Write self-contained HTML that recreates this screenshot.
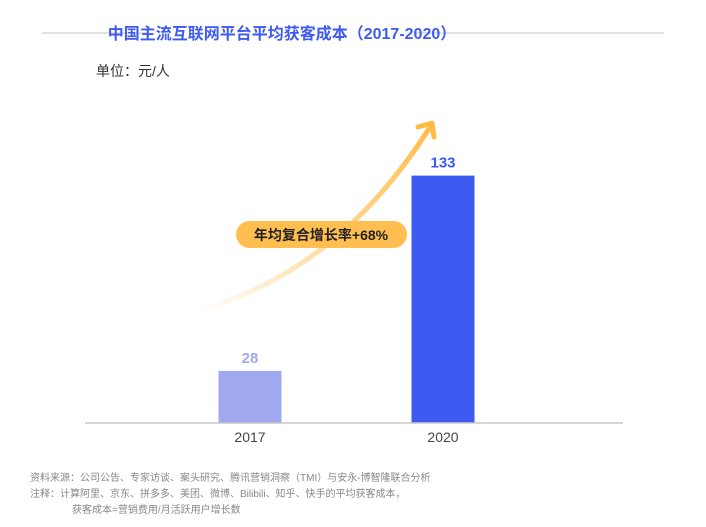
<!DOCTYPE html>
<html><head><meta charset="utf-8"><style>
body{margin:0;background:#fff;font-family:"Liberation Sans","Noto Sans CJK SC",sans-serif}
</style></head><body>
<svg width="706" height="522" viewBox="0 0 706 522" xmlns="http://www.w3.org/2000/svg">
<defs>
<linearGradient id="ag" x1="0" y1="1" x2="1" y2="0">
<stop offset="0" stop-color="#ffc867" stop-opacity="0"/>
<stop offset="0.5" stop-color="#ffcf80" stop-opacity="0.8"/>
<stop offset="1" stop-color="#ffbb44"/>
</linearGradient>
</defs>
<line x1="42" y1="33" x2="148" y2="33" stroke="#d8d8d8" stroke-width="1.5"/>
<line x1="148" y1="29" x2="148" y2="37" stroke="#d0d0d0"/>
<line x1="416" y1="33" x2="664" y2="33" stroke="#d8d8d8" stroke-width="1.5"/>
<line x1="416" y1="29" x2="416" y2="37" stroke="#d0d0d0"/>
<text x="282" y="39" text-anchor="middle" font-size="16" font-weight="bold" fill="#3d5af1">中国主流互联网平台平均获客成本（2017-2020）</text>
<text x="96" y="76" font-size="14" fill="#333">单位：元/人</text>
<path d="M200 310 Q340 270 430 127" fill="none" stroke="url(#ag)" stroke-width="5" stroke-linecap="round"/>
<path d="M418 127 L432 123 L434 137" fill="none" stroke="#ffbb44" stroke-width="5" stroke-linecap="round" stroke-linejoin="round"/>
<rect x="236" y="221" width="171" height="27" rx="13.5" fill="#ffbe50"/>
<text x="321" y="240" text-anchor="middle" font-size="14" font-weight="bold" fill="#222">年均复合增长率+68%</text>
<g id="bars"></g>
<line x1="85" y1="423" x2="623" y2="423" stroke="#c8c8c8" stroke-width="1.5"/>
<text x="30" y="481" font-size="10" fill="#888">资料来源：公司公告、专家访谈、案头研究、腾讯营销洞察（TMI）与安永-博智隆联合分析</text>
<text x="30" y="497" font-size="10" fill="#888">注释：计算阿里、京东、拼多多、美团、微博、Bilibili、知乎、快手的平均获客成本，</text>
<text x="72" y="513" font-size="10" fill="#888">获客成本=营销费用/月活跃用户增长数</text>
</svg>
<script>
const categories=["2017","2020"];
const values=[28,133];
const barColors=["#a0a9f0","#3d5af1"];
const labelColors=["#a0a9f0","#3d5af1"];
const ns="http://www.w3.org/2000/svg";
const g=document.getElementById("bars");
const base=423, scale=1.86;
function xCenter(i){return 250+i*193;}
function yPos(v){return base-v*scale;}
categories.forEach((c,i)=>{
  const v=values[i];
  const r=document.createElementNS(ns,"rect");
  r.setAttribute("x",xCenter(i)-31.5);r.setAttribute("width",63);
  r.setAttribute("y",yPos(v));r.setAttribute("height",base-yPos(v));
  r.setAttribute("fill",barColors[i]);
  
  
  g.appendChild(r);
  const t=document.createElementNS(ns,"text");
  t.setAttribute("x",xCenter(i));t.setAttribute("y",yPos(v)-8);
  t.setAttribute("text-anchor","middle");t.setAttribute("font-size","15");t.setAttribute("font-weight","bold");
  t.setAttribute("fill",labelColors[i]);t.textContent=v;
  
  
  g.appendChild(t);
  const x=document.createElementNS(ns,"text");
  x.setAttribute("x",xCenter(i));x.setAttribute("y",442);
  x.setAttribute("text-anchor","middle");x.setAttribute("font-size","14");x.setAttribute("fill","#444");
  x.textContent=c;
  
  
  g.appendChild(x);
});
</script>
</body></html>
